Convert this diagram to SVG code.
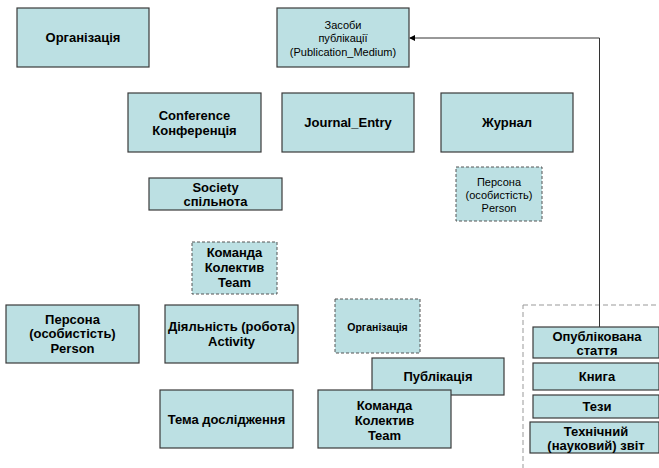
<svg xmlns="http://www.w3.org/2000/svg" width="659" height="468" viewBox="0 0 659 468">
<style>
.b{fill:#bce0e3;stroke:#3a3a3a;stroke-width:1.2}
.d{fill:#bce0e3;stroke:#555;stroke-width:1;stroke-dasharray:3,2}
.t{font-family:"Liberation Sans",Arial,sans-serif;font-weight:bold;font-size:13px;fill:#000;text-anchor:middle}
.s{font-family:"Liberation Sans",Arial,sans-serif;font-size:11px;fill:#000;text-anchor:middle}
.ts{font-family:"Liberation Sans",Arial,sans-serif;font-weight:bold;font-size:10.5px;fill:#000;text-anchor:middle}
.c{fill:none;stroke:#333;stroke-width:1}
</style>
<defs>
<marker id="ah" markerWidth="6" markerHeight="6" refX="5" refY="3" orient="auto" markerUnits="userSpaceOnUse">
<path d="M0,0 L6,3 L0,6 Z" fill="#000"/>
</marker>
</defs>
<rect width="659" height="468" fill="#fff"/>
<g id="group-box">
<rect x="523" y="305" width="150" height="180" fill="none" stroke="#999" stroke-width="1" stroke-dasharray="5,3"/>
</g>
<g id="connectors">
<path class="c" d="M599.5,327 V38 H410" marker-end="url(#ah)"/>
</g>
<g id="n-org"><rect class="b" x="17" y="8" width="132" height="59"/><text class="t" x="83" y="42">Організація</text></g>
<g id="n-medium"><rect class="b" x="277" y="8" width="132" height="59"/>
<text class="s" x="343" y="29">Засоби</text><text class="s" x="343" y="42">публікації</text><text class="s" x="343" y="56">(Publication_Medium)</text></g>
<g id="n-conf"><rect class="b" x="128" y="93" width="133" height="59"/>
<text class="t" x="194.5" y="120">Conference</text><text class="t" x="194.5" y="135">Конференція</text></g>
<g id="n-journal-entry"><rect class="b" x="282" y="93" width="132" height="59"/><text class="t" x="348" y="127">Journal_Entry</text></g>
<g id="n-journal"><rect class="b" x="441" y="93" width="132" height="59"/><text class="t" x="507" y="127">Журнал</text></g>
<g id="n-society"><rect class="b" x="149" y="178" width="133" height="32"/>
<text class="t" x="215.5" y="192">Society</text><text class="t" x="215.5" y="206">спільнота</text></g>
<g id="n-person-r"><rect class="d" x="456" y="167" width="86" height="54"/>
<text class="s" x="499" y="186">Персона</text><text class="s" x="499" y="199">(особистість)</text><text class="s" x="499" y="212">Person</text></g>
<g id="n-team-top"><rect class="d" x="192" y="242" width="85" height="52"/>
<text class="t" x="234.5" y="257">Команда</text><text class="t" x="234.5" y="272">Колектив</text><text class="t" x="234.5" y="287">Team</text></g>
<g id="n-person-l"><rect class="b" x="6" y="305" width="133" height="58"/>
<text class="t" x="72.5" y="324">Персона</text><text class="t" x="72.5" y="338">(особистість)</text><text class="t" x="72.5" y="353">Person</text></g>
<g id="n-activity"><rect class="b" x="165" y="305" width="133" height="58"/>
<text class="t" x="231.5" y="331">Діяльність (робота)</text><text class="t" x="231.5" y="346">Activity</text></g>
<g id="n-topic"><rect class="b" x="160" y="390" width="133" height="58"/><text class="t" x="226.5" y="424">Тема дослідження</text></g>
<g id="n-org-small"><rect class="d" x="335" y="299" width="85" height="54"/><text class="ts" x="377.5" y="331">Організація</text></g>
<g id="n-publication"><rect class="b" x="372" y="358" width="132" height="37"/><text class="t" x="438" y="381">Публікація</text></g>
<g id="n-team-bottom"><rect class="b" x="318" y="390" width="133" height="58"/>
<text class="t" x="384.5" y="410">Команда</text><text class="t" x="384.5" y="425">Колектив</text><text class="t" x="384.5" y="440">Team</text></g>
<g id="n-article"><rect class="b" x="533" y="327" width="126" height="31"/>
<text class="t" x="597" y="341">Опублікована</text><text class="t" x="597" y="355">стаття</text></g>
<g id="n-book"><rect class="b" x="533" y="363" width="126" height="27"/><text class="t" x="597" y="381">Книга</text></g>
<g id="n-theses"><rect class="b" x="533" y="395" width="126" height="23"/><text class="t" x="597" y="411">Тези</text></g>
<g id="n-report"><rect class="b" x="530" y="422" width="129" height="31"/>
<text class="t" x="596" y="436">Технічний</text><text class="t" x="596" y="450">(науковий) звіт</text></g>
</svg>
